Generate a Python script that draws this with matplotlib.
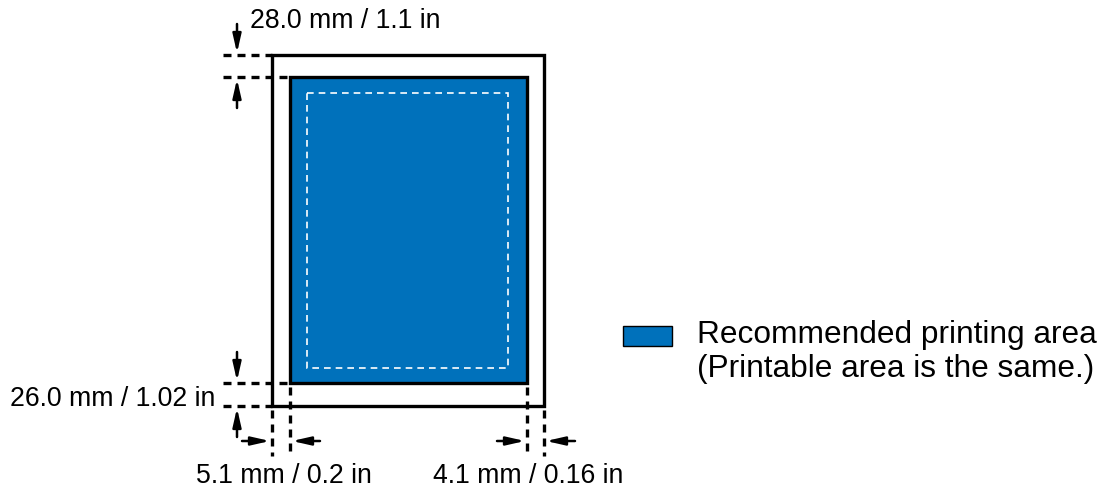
"""
Printable area diagram for a paper sheet with margin annotations.
"""

import matplotlib.pyplot as plt
from matplotlib.patches import Rectangle

plt.rcParams['font.family'] = ['Liberation Sans', 'DejaVu Sans']

# margin labels
top_label = "28.0 mm / 1.1 in"
bottom_label = "26.0 mm / 1.02 in"
left_label = "5.1 mm / 0.2 in"
right_label = "4.1 mm / 0.16 in"
legend_lines = ["Recommended printing area", "(Printable area is the same.)"]

BLUE = "#0071bb"

# geometry in pixel units (y grows downwards)
paper = (272, 55, 544, 406)
area = (290, 77, 527, 383)
inner = (307, 93, 508, 368)

DASH = dict(color="black", lw=2.4, ls=(0, (2.4, 1.8)))


def arrow(ax, x0, y0, x1, y1):
    ax.annotate("", xy=(x1, y1), xytext=(x0, y0),
                arrowprops=dict(arrowstyle="-|>,head_length=1.1,head_width=0.25",
                                color="black", lw=1.8, shrinkA=0, shrinkB=0))


def main():
    fig = plt.figure(figsize=(11.05, 4.93), dpi=100)
    ax = fig.add_axes([0, 0, 1, 1])
    ax.set_xlim(0, 1105)
    ax.set_ylim(493, 0)
    ax.axis("off")

    x0, y0, x1, y1 = paper
    ax.add_patch(Rectangle((x0, y0), x1 - x0, y1 - y0, fill=False, ec="black", lw=2.4))
    x0, y0, x1, y1 = area
    ax.add_patch(Rectangle((x0, y0), x1 - x0, y1 - y0, fc=BLUE, ec="black", lw=2.4))
    x0, y0, x1, y1 = inner
    ax.add_patch(Rectangle((x0, y0), x1 - x0, y1 - y0, fill=False, ec="white",
                           lw=1.2, ls=(0, (4, 3))))

    # horizontal dashed extension lines
    ax.plot([223, paper[0]], [paper[1]] * 2, **DASH)
    ax.plot([223, area[0]], [area[1]] * 2, **DASH)
    ax.plot([223, area[0]], [area[3]] * 2, **DASH)
    ax.plot([223, paper[0]], [paper[3]] * 2, **DASH)

    # vertical dashed extension lines
    for x, ytop in [(paper[0], paper[3]), (area[0], area[3]),
                    (area[2], area[3]), (paper[2], paper[3])]:
        ax.plot([x, x], [ytop + 4, 456], **DASH)

    # vertical arrows
    arrow(ax, 237, 24, 237, paper[1] - 2)
    arrow(ax, 237, 108, 237, area[1] + 2)
    arrow(ax, 237, 352, 237, area[3] - 2)
    arrow(ax, 237, 437, 237, paper[3] + 2)

    # horizontal arrows
    arrow(ax, 242, 441, paper[0] - 2, 441)
    arrow(ax, 320, 441, area[0] + 2, 441)
    arrow(ax, 497, 441, area[2] - 2, 441)
    arrow(ax, 575, 441, paper[2] + 2, 441)

    fs = 19.2
    ax.text(250, 21, top_label, fontsize=fs, va="center", ha="left")
    ax.text(215, 399, bottom_label, fontsize=fs, va="center", ha="right")
    ax.text(284, 476, left_label, fontsize=fs, va="center", ha="center")
    ax.text(528, 476, right_label, fontsize=fs, va="center", ha="center")

    # legend
    ax.add_patch(Rectangle((623, 326), 49, 20, fc=BLUE, ec="black", lw=1.0))
    ax.text(697, 335, legend_lines[0], fontsize=22.8, va="center", ha="left")
    ax.text(697, 369, legend_lines[1], fontsize=22.8, va="center", ha="left")

    fig.savefig("out.png", dpi=100)


if __name__ == "__main__":
    main()
